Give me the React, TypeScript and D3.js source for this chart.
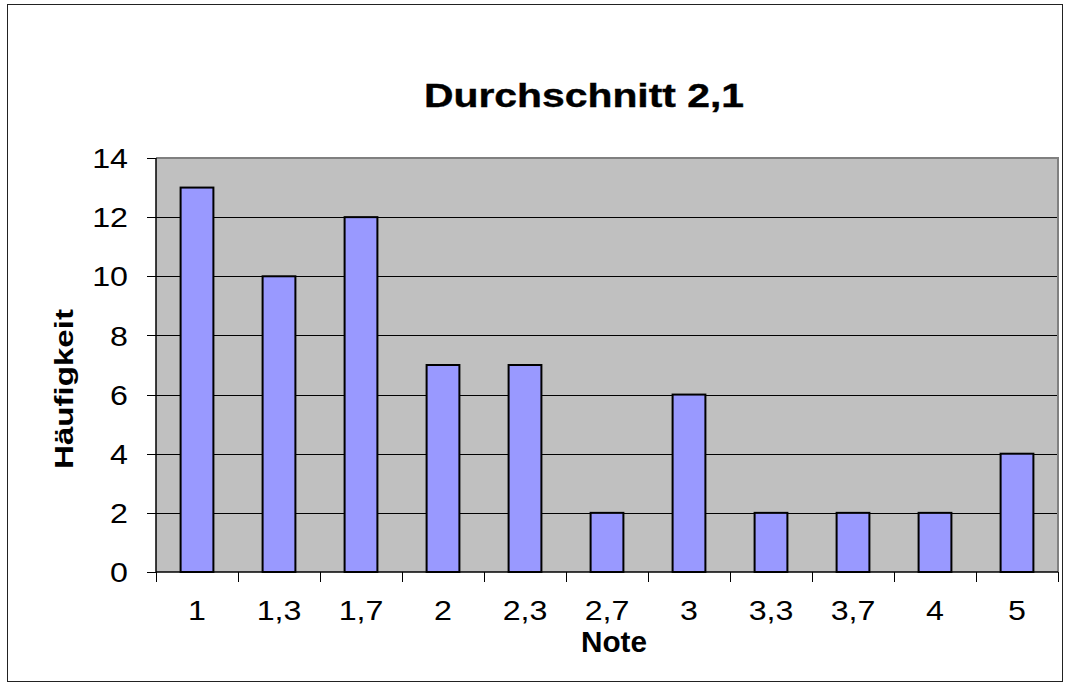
import React, { useRef, useEffect } from 'react';
import * as d3 from 'd3';

const noten: string[] = ['1', '1,3', '1,7', '2', '2,3', '2,7', '3', '3,3', '3,7', '4', '5'];
const haeufigkeit: number[] = [13, 10, 12, 7, 7, 2, 6, 2, 2, 2, 4];
const yTicks: number[] = [0, 2, 4, 6, 8, 10, 12, 14];
const titel = 'Durchschnitt 2,1';
const xTitel = 'Note';
const yTitel = 'Häufigkeit';

const App = () => {
    const svgRef = useRef<SVGSVGElement>(null);

    useEffect(() => {
        const width = 1073;
        const height = 683;
        const plot = { left: 156, right: 1058, top: 158, bottom: 572 };
        const font = '"Liberation Sans", Arial, sans-serif';
        const stretch = 1.15; // text in the picture is drawn a little wider than normal

        const svg = d3.select(svgRef.current);
        svg.selectAll('*').remove();
        svg.attr('width', width).attr('height', height);

        // outer frame
        svg.append('rect')
            .attr('x', 7.5).attr('y', 4.5)
            .attr('width', 1055).attr('height', 677)
            .attr('fill', 'white')
            .attr('stroke', '#222')
            .attr('stroke-width', 1);

        const x = d3.scaleBand<string>()
            .domain(noten)
            .range([plot.left, plot.right])
            .paddingInner(0.6)
            .paddingOuter(0.3);

        const y = d3.scaleLinear()
            .domain([0, 14])
            .range([plot.bottom, plot.top]);

        // plot background
        svg.append('rect')
            .attr('x', plot.left).attr('y', plot.top)
            .attr('width', plot.right - plot.left)
            .attr('height', plot.bottom - plot.top)
            .attr('fill', '#c0c0c0');

        // gridlines
        svg.append('g')
            .selectAll('line')
            .data(yTicks.filter(t => t > 0 && t < 14))
            .join('line')
            .attr('x1', plot.left).attr('x2', plot.right)
            .attr('y1', d => Math.round(y(d)) + 0.5)
            .attr('y2', d => Math.round(y(d)) + 0.5)
            .attr('stroke', 'black')
            .attr('stroke-width', 1);

        // top and right border of plot area
        svg.append('path')
            .attr('d', `M${plot.left},${plot.top} H${plot.right} V${plot.bottom}`)
            .attr('fill', 'none')
            .attr('stroke', '#808080')
            .attr('stroke-width', 2);

        // bars
        svg.append('g')
            .selectAll('rect')
            .data(haeufigkeit)
            .join('rect')
            .attr('x', (d, i) => x(noten[i]) as number)
            .attr('y', d => y(d))
            .attr('width', x.bandwidth())
            .attr('height', d => y(0) - y(d))
            .attr('fill', '#9999ff')
            .attr('stroke', 'black')
            .attr('stroke-width', 2);

        // y axis
        const yAxis = svg.append('g');
        yAxis.append('line')
            .attr('x1', plot.left).attr('x2', plot.left)
            .attr('y1', plot.top).attr('y2', plot.bottom)
            .attr('stroke', 'black').attr('stroke-width', 1.5);
        yAxis.selectAll('line.tick')
            .data(yTicks)
            .join('line')
            .attr('class', 'tick')
            .attr('x1', plot.left - 9).attr('x2', plot.left)
            .attr('y1', d => Math.round(y(d)) + 0.5)
            .attr('y2', d => Math.round(y(d)) + 0.5)
            .attr('stroke', 'black');
        yAxis.selectAll('text')
            .data(yTicks)
            .join('text')
            .attr('transform', d => `translate(128,${y(d)}) scale(${stretch},1)`)
            .attr('dy', '0.36em')
            .attr('text-anchor', 'end')
            .style('font-family', font)
            .style('font-size', '28px')
            .text(d => d);

        // x axis
        const xAxis = svg.append('g');
        xAxis.append('line')
            .attr('x1', plot.left).attr('x2', plot.right)
            .attr('y1', plot.bottom).attr('y2', plot.bottom)
            .attr('stroke', 'black').attr('stroke-width', 1.5);
        const edges = noten.map(n => (x(n) as number) - x.step() * 0.3)
            .concat([plot.right]);
        xAxis.selectAll('line.tick')
            .data(edges)
            .join('line')
            .attr('class', 'tick')
            .attr('x1', d => Math.round(d) + 0.5).attr('x2', d => Math.round(d) + 0.5)
            .attr('y1', plot.bottom).attr('y2', plot.bottom + 10)
            .attr('stroke', 'black');
        xAxis.selectAll('text')
            .data(noten)
            .join('text')
            .attr('transform', d => `translate(${(x(d) as number) + x.bandwidth() / 2},620) scale(${stretch},1)`)
            .attr('text-anchor', 'middle')
            .style('font-family', font)
            .style('font-size', '28px')
            .text(d => d);

        // titles
        svg.append('text')
            .attr('x', 584).attr('y', 107)
            .attr('text-anchor', 'middle')
            .attr('textLength', 320)
            .attr('lengthAdjust', 'spacingAndGlyphs')
            .style('font-family', font)
            .style('font-size', '34px')
            .style('font-weight', 'bold')
            .style('stroke', 'black')
            .style('stroke-width', 0.4)
            .text(titel);

        svg.append('text')
            .attr('x', 614).attr('y', 652)
            .attr('text-anchor', 'middle')
            .attr('textLength', 66)
            .attr('lengthAdjust', 'spacingAndGlyphs')
            .style('font-family', font)
            .style('font-size', '29px')
            .style('font-weight', 'bold')
            .text(xTitel);

        svg.append('text')
            .attr('transform', 'translate(73,389) rotate(-90)')
            .attr('text-anchor', 'middle')
            .attr('textLength', 160)
            .attr('lengthAdjust', 'spacingAndGlyphs')
            .style('font-family', font)
            .style('font-size', '25px')
            .style('font-weight', 'bold')
            .text(yTitel);
    }, []);

    return (
        <div style={{ position: 'absolute', left: 0, top: 0 }}>
            <svg ref={svgRef} style={{ display: 'block' }}></svg>
        </div>
    );
};

export default App;
